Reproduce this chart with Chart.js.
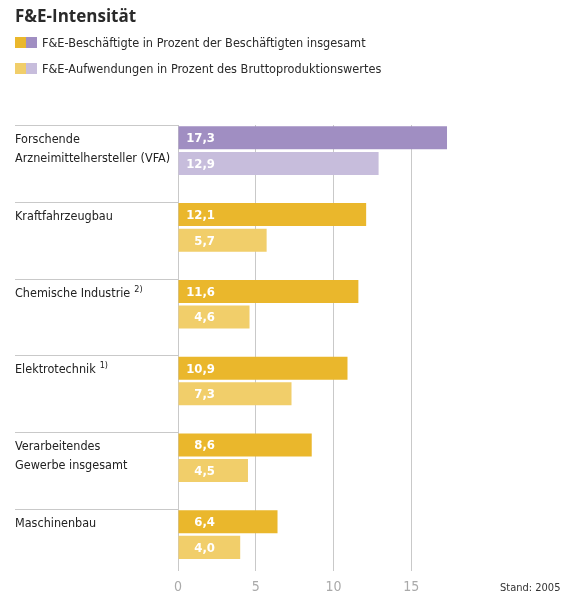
<!DOCTYPE html>
<html>
<head>
<meta charset="utf-8">
<script src="https://cdn.jsdelivr.net/npm/chart.js@4.4.1/dist/chart.umd.min.js"></script>
<style>
body { margin: 0; background: #fff; overflow: hidden; }
#wrap { position: relative; width: 574px; height: 600px; }
#chart { position: absolute; left: 0; top: 0; }
.title { position: absolute; left: 15px; top: 5px; font: bold 17px "Open Sans", sans-serif; color: #2a2a2a; line-height: 22px; }
.leg { position: absolute; left: 15px; height: 12px; display: flex; align-items: center; font: 12.6px "DejaVu Sans Condensed", "DejaVu Sans", sans-serif; font-stretch: semi-condensed; color: #2a2a2a; white-space: nowrap; }
.sw { width: 11px; height: 11px; }
</style>
</head>
<body>
<div id="wrap">
  <canvas id="chart" width="574" height="600"></canvas>
  <div class="title">F&amp;E-Intensität</div>
  <div class="leg" style="top:36px"><span class="sw" style="background:#EAB72C"></span><span class="sw" style="background:#A08EC2"></span><span style="margin-left:5px">F&amp;E-Beschäftigte in Prozent der Beschäftigten insgesamt</span></div>
  <div class="leg" style="top:62px"><span class="sw" style="background:#F1CE6A"></span><span class="sw" style="background:#C7BDDC"></span><span style="margin-left:5px">F&amp;E-Aufwendungen in Prozent des Bruttoproduktionswertes</span></div>
</div>
<script>
// Daten aus der Grafik
const categories = [
    ['Forschende', 'Arzneimittelhersteller (VFA)'],
    ['Kraftfahrzeugbau'],
    ['Chemische Industrie'],
    ['Elektrotechnik'],
    ['Verarbeitendes', 'Gewerbe insgesamt'],
    ['Maschinenbau']
];
const footnotes = ['', '', '2)', '1)', '', ''];
const employees = [17.3, 12.1, 11.6, 10.9, 8.6, 6.4];
const spending = [12.9, 5.7, 4.6, 7.3, 4.5, 4.0];
const xTicks = [0, 5, 10, 15];

const darkYellow = '#EAB72C';
const lightYellow = '#F1CE6A';
const darkPurple = '#A08EC2';
const lightPurple = '#C7BDDC';
const lineColor = '#c9c9c9';
const labelFont = '"DejaVu Sans Condensed", "DejaVu Sans", sans-serif';

// erste Kategorie (VFA) in Lila, Rest in Gelb
let employeeColors = categories.map((c, i) => i === 0 ? darkPurple : darkYellow);
let spendingColors = categories.map((c, i) => i === 0 ? lightPurple : lightYellow);

function fmt(v)
{
    return v.toFixed(1).replace('.', ',');
}

function toPoints(values)
{
    return values.map((v, i) => ({ x: v, y: i }));
}

const decorPlugin = {
    id: 'decor',
    beforeDatasetsDraw(chart)
    {
        let ctx = chart.ctx;
        let area = chart.chartArea;
        let ys = chart.scales.y;
        ctx.save();
        ctx.lineWidth = 1;
        // Trennlinien und Kategorien links
        categories.forEach((lines, i) => {
            let y = Math.round(ys.getPixelForValue(i - 0.5)) + 0.5;
            ctx.strokeStyle = lineColor;
            ctx.beginPath();
            ctx.moveTo(15, y);
            ctx.lineTo(area.left, y);
            ctx.stroke();

            ctx.fillStyle = '#222';
            ctx.font = '12.5px ' + labelFont;
            ctx.textAlign = 'left';
            ctx.textBaseline = 'middle';
            lines.forEach((t, k) => {
                ctx.fillText(t, 15, y + 14 + k * 19.5);
            });
            if (footnotes[i])
            {
                let w = ctx.measureText(lines[lines.length - 1]).width;
                ctx.font = '9px ' + labelFont;
                ctx.fillText(footnotes[i], 15 + w + 4, y + 10);
            }
        });
        ctx.restore();
    },
    afterDatasetsDraw(chart)
    {
        let ctx = chart.ctx;
        let x0 = chart.scales.x.getPixelForValue(0);
        ctx.save();
        ctx.fillStyle = '#fff';
        ctx.font = 'bold 13px ' + labelFont;
        ctx.textAlign = 'right';
        ctx.textBaseline = 'middle';
        [employees, spending].forEach((values, d) => {
            let meta = chart.getDatasetMeta(d);
            meta.data.forEach((bar, j) => {
                ctx.fillText(fmt(values[j]), x0 + 37, bar.y + 1);
            });
        });
        // Stand
        ctx.fillStyle = '#333';
        ctx.font = '11px ' + labelFont;
        ctx.textAlign = 'left';
        ctx.fillText('Stand: 2005', 500, 588);
        ctx.restore();
    }
};

new Chart(document.getElementById('chart'),
    {
        type: 'bar',
        data:
            {
                datasets:
                    [
                        { label: 'F&E-Beschäftigte', data: toPoints(employees), backgroundColor: employeeColors, barPercentage: 0.9, categoryPercentage: 1 },
                        { label: 'F&E-Aufwendungen', data: toPoints(spending), backgroundColor: spendingColors, barPercentage: 0.9, categoryPercentage: 1 },
                        // leerer Platzhalter fuer den Abstand unter jedem Paar
                        { label: '', data: categories.map((c, i) => ({ x: null, y: i })), backgroundColor: 'rgba(0,0,0,0)', barPercentage: 0.9, categoryPercentage: 1 }
                    ]
            },
        options:
            {
                indexAxis: 'y',
                responsive: false,
                animation: false,
                layout: { padding: { left: 178, right: 85, top: 125, bottom: -4 } },
                plugins: { legend: { display: false }, tooltip: { enabled: false } },
                scales:
                    {
                        y:
                            {
                                type: 'linear',
                                display: false,
                                reverse: true,
                                offset: false,
                                grid: { offset: false },
                                min: -0.5,
                                max: 5.31,
                                afterBuildTicks: (scale) => { scale.ticks = categories.map((c, i) => ({ value: i })); }
                            },
                        x:
                            {
                                min: 0,
                                max: 20,
                                grid: { color: lineColor, drawTicks: false },
                                border: { display: false },
                                afterBuildTicks: (scale) => { scale.ticks = xTicks.map(v => ({ value: v })); },
                                ticks:
                                    {
                                        padding: 8,
                                        color: '#aaaaaa',
                                        font: { family: labelFont, size: 14 }
                                    }
                            }
                    }
            },
        plugins: [decorPlugin]
    });
</script>
</body>
</html>
